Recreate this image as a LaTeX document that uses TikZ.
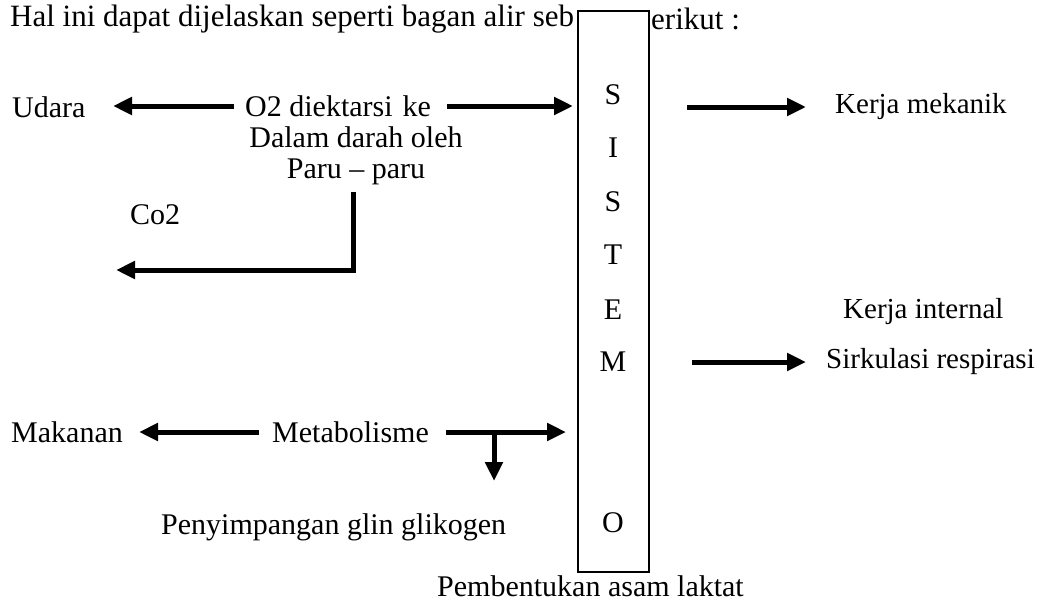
\documentclass[tikz,border=0pt]{standalone}
\usepackage{fontspec}
\setmainfont{Liberation Serif}
\usetikzlibrary{arrows.meta}
\begin{document}
\begin{tikzpicture}[x=1pt,y=-1pt,
  lbl/.style={inner sep=0pt,font=\fontsize{30}{33}\selectfont},
  ttl/.style={inner sep=0pt,font=\fontsize{31}{34}\selectfont},
  rlbl/.style={inner sep=0pt,font=\fontsize{29}{32}\selectfont},
  arr/.style={line width=5pt,-{Triangle[length=19pt,width=17pt]}},
  sysbox/.style={draw,line width=1.6pt,minimum width=71pt,minimum height=561pt,inner sep=0pt,fill=white},
  letter/.style={inner sep=0pt,font=\fontsize{30}{33}\selectfont}]
\useasboundingbox (0,0) rectangle (1043,602);
% title
\node[ttl,anchor=west] (t1) at (10,19) {Hal ini dapat dijelaskan seperti bagan alir seb};
\node[sysbox] (sys) at (613.5,291.5) {};
\node[ttl,anchor=west] (t2) at (651,19) {erikut :};
% letters
\node[letter] (l1) at (613,95) {S};
\node[letter] (l2) at (613,148) {I};
\node[letter] (l3) at (613,202) {S};
\node[letter] (l4) at (613,255) {T};
\node[letter] (l5) at (613,310) {E};
\node[letter] (l6) at (613,362) {M};
\node[letter] (l7) at (613,523) {O};
% row 1
\node[lbl,anchor=base west] (udara) at (12,117) {Udara};
\node[lbl,anchor=base west] (o2) at (245,116) {O2 diektarsi\hspace{10pt}ke};
\node[lbl,anchor=base] (dalam) at (356,147) {Dalam darah oleh};
\node[lbl,anchor=base] (paru) at (356,178) {Paru -- paru};
\coordinate (a1s) at (234,106);
\coordinate (a1e) at (113,106);
\draw[arr] (a1s) -- (a1e);
\coordinate (a2s) at (447,106);
\coordinate (a2e) at (573,106);
\draw[arr] (a2s) -- (a2e);
% Co2 elbow
\node[lbl,anchor=west] (co2) at (130,215) {Co2};
\coordinate (e1) at (353,192);
\coordinate (e2) at (353,270);
\coordinate (e3) at (116,270);
\draw[arr] (e1) -- (e2) -- (e3);
% right side
\coordinate (r1s) at (687,107);
\coordinate (r1e) at (806,107);
\draw[arr] (r1s) -- (r1e);
\node[rlbl,anchor=west] (kerja) at (835,107) {Kerja mekanik};
\node[rlbl,anchor=west] (kint) at (843,312) {Kerja internal};
\coordinate (r2s) at (692,362);
\coordinate (r2e) at (806,362);
\draw[arr] (r2s) -- (r2e);
\node[rlbl,anchor=west] (sirk) at (826,362) {Sirkulasi respirasi};
% Makanan row
\node[lbl,anchor=west] (makan) at (11,432) {Makanan};
\node[lbl,anchor=west] (meta) at (272,432) {Metabolisme};
\coordinate (m1s) at (259,432);
\coordinate (m1e) at (139,432);
\draw[arr] (m1s) -- (m1e);
\coordinate (m2s) at (446,432);
\coordinate (m2e) at (566,432);
\draw[arr] (m2s) -- (m2e);
\coordinate (d1s) at (494,432);
\coordinate (d1e) at (494,481);
\draw[arr] (d1s) -- (d1e);
% bottom
\node[lbl,anchor=west] (peny) at (161,527) {Penyimpangan glin glikogen};
\node[lbl,anchor=west] (pemb) at (437,586) {Pembentukan asam laktat};
\end{tikzpicture}
\end{document}
